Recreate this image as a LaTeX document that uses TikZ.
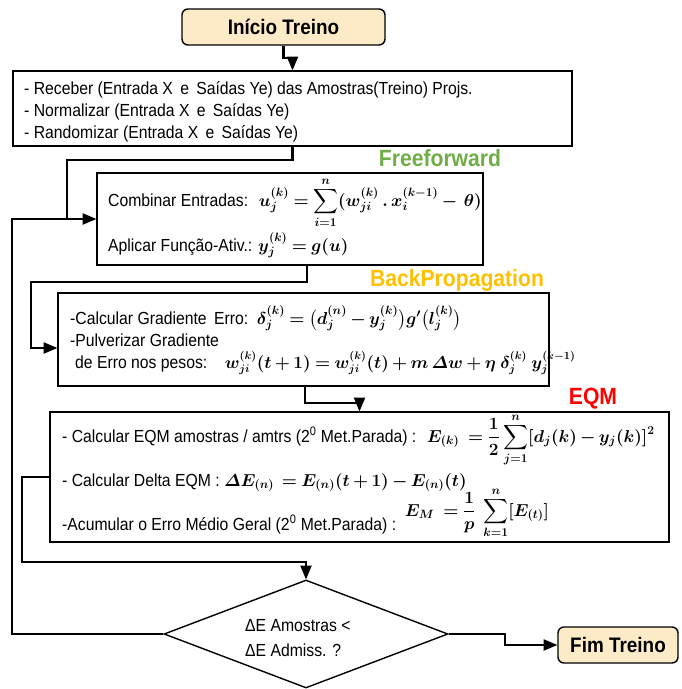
\documentclass[tikz,border=0pt]{standalone}
\usepackage[no-math]{fontspec}
\setmainfont{Liberation Sans}[FakeStretch=0.9]
\usepackage{amsmath}
\usetikzlibrary{shapes.geometric, arrows, calc}
\definecolor{creme}{RGB}{253,235,200}
\definecolor{ffgreen}{RGB}{112,173,71}
\definecolor{bporange}{RGB}{255,192,0}

\begin{document}
\boldmath
\medmuskip=3mu plus 1mu minus 2mu
\thickmuskip=4mu plus 2mu
\begin{tikzpicture}[x=1pt,y=-1pt,
	box/.style={draw, line width=1.4pt, inner sep=0pt},
	term/.style={draw, line width=1.4pt, fill=creme, rounded corners=6pt, font=\fontsize{21}{24}\selectfont\bfseries},
	txt/.style={anchor=base west, inner sep=0pt, font=\fontsize{17.5}{20}\selectfont},
	tag/.style={inner sep=0pt, font=\fontsize{23.5}{26}\selectfont\bfseries},
	flow/.style={line width=2.2pt, -triangle 45},
	line/.style={line width=2.2pt}]
	\useasboundingbox (0,0) rectangle (681,689);
	
	% caixas
	\node[term, minimum width=203, minimum height=36] (start) at (283.5,27) {Início Treino};
	\node[box, minimum width=559, minimum height=75] (recv) at (292.5,108.5) {};
	\node[box, minimum width=386, minimum height=92] (ff) at (290,219) {};
	\node[box, minimum width=491, minimum height=93] (bp) at (303.5,339.5) {};
	\node[box, minimum width=619, minimum height=130] (eqm) at (359.5,477) {};
	\node[draw, line width=1.4pt, diamond, minimum width=284, minimum height=108, inner sep=0pt] (dec) at (306,634) {};
	\node[term, minimum width=120, minimum height=36] (stop) at (618,645) {Fim Treino};
	
	% titulos
	\node[tag, text=ffgreen] (tff) at (440,158) {Freeforward};
	\node[tag, text=bporange] (tbp) at (457,280) {BackPropagation};
	\node[tag, text=red] (teqm) at (593,399) {EQM};
	
	% textos
	\node[txt] (r1) at (24,94) {- Receber (Entrada X\, e\, Saídas Ye) das Amostras(Treino) Projs.};
	\node[txt] (r2) at (24,116) {- Normalizar (Entrada X\, e\, Saídas Ye)};
	\node[txt] (r3) at (24,138) {- Randomizar (Entrada X\, e\, Saídas Ye)};
	
	\node[txt] (f1) at (108,206) {Combinar Entradas:\; $\displaystyle u_j^{(k)} = \sum_{i=1}^{n}(w_{ji}^{(k)}\,.\,x_i^{(k-1)} -\,\theta)$};
	\node[txt] (f2) at (108,251) {Aplicar Função-Ativ.: $y_j^{(k)} = g(u)$};
	
	\node[txt] (b1) at (70,324) {-Calcular Gradiente\, Erro:\, $\delta_j^{(k)} = \bigl(d_j^{(n)} - y_j^{(k)}\bigr)g'\bigl(l_j^{(k)}\bigr)$};
	\node[txt] (b2) at (70,346) {-Pulverizar Gradiente};
	\node[txt] (b3) at (75,368) {de Erro nos pesos:\quad {\fontsize{16}{20}\selectfont$w_{ji}^{(k)}(t+1) = w_{ji}^{(k)}(t) + m\,\varDelta w + \eta\;\delta_j^{(k)}\;y_j^{(k-1)}$}};
	
	\node[txt] (e1) at (62,442) {- Calcular EQM amostras / amtrs (2\textsuperscript{0} Met.Parada) :\; $\displaystyle E_{(k)}\ = \frac{1}{2}\sum_{j=1}^{n}[d_j(k) - y_j(k)]^2$};
	\node[txt] (e2) at (62,486) {- Calcular Delta EQM : $\varDelta E_{(n)}\, = E_{(n)}(t+1) - E_{(n)}(t)$};
	\node[txt] (e3) at (62,530) {-Acumular o Erro Médio Geral (2\textsuperscript{0} Met.Parada) :\, \raisebox{14pt}{$\displaystyle E_M\ = \frac{1}{p}\ \sum_{k=1}^{n}[E_{(t)}]$}};
	
	\node[txt] (d1) at (245,631) {ΔE Amostras <};
	\node[txt] (d2) at (245,656) {ΔE Admiss. ?};
	
	% pontos de desvio
	\coordinate (j1) at (67,160);
	\coordinate (loop) at (12,219);
	\coordinate (x2) at (307,0);
	\coordinate (j2) at (31,282);
	\coordinate (y3) at (0,348);
	\coordinate (x3) at (305,0);
	\coordinate (j4) at (22,562);
	
	% ligacoes
	\draw[flow] (start.south) -- ++(0,12) -| (recv.north);
	\draw[flow] (recv.south) |- (j1) |- (ff.west);
	\draw[line] (dec.west) -| (loop) -- (loop -| j1);
	\draw[flow] (ff.south -| x2) |- (j2) |- (bp.west |- y3);
	\draw[flow] (bp.south -| x3) -- ++(0,16) -| (eqm.north);
	\draw[flow] (eqm.west) -| (j4) -| (dec.north);
	\draw[flow] (dec.east) -- ++(56,0) |- (stop.west);
\end{tikzpicture}
\end{document}
